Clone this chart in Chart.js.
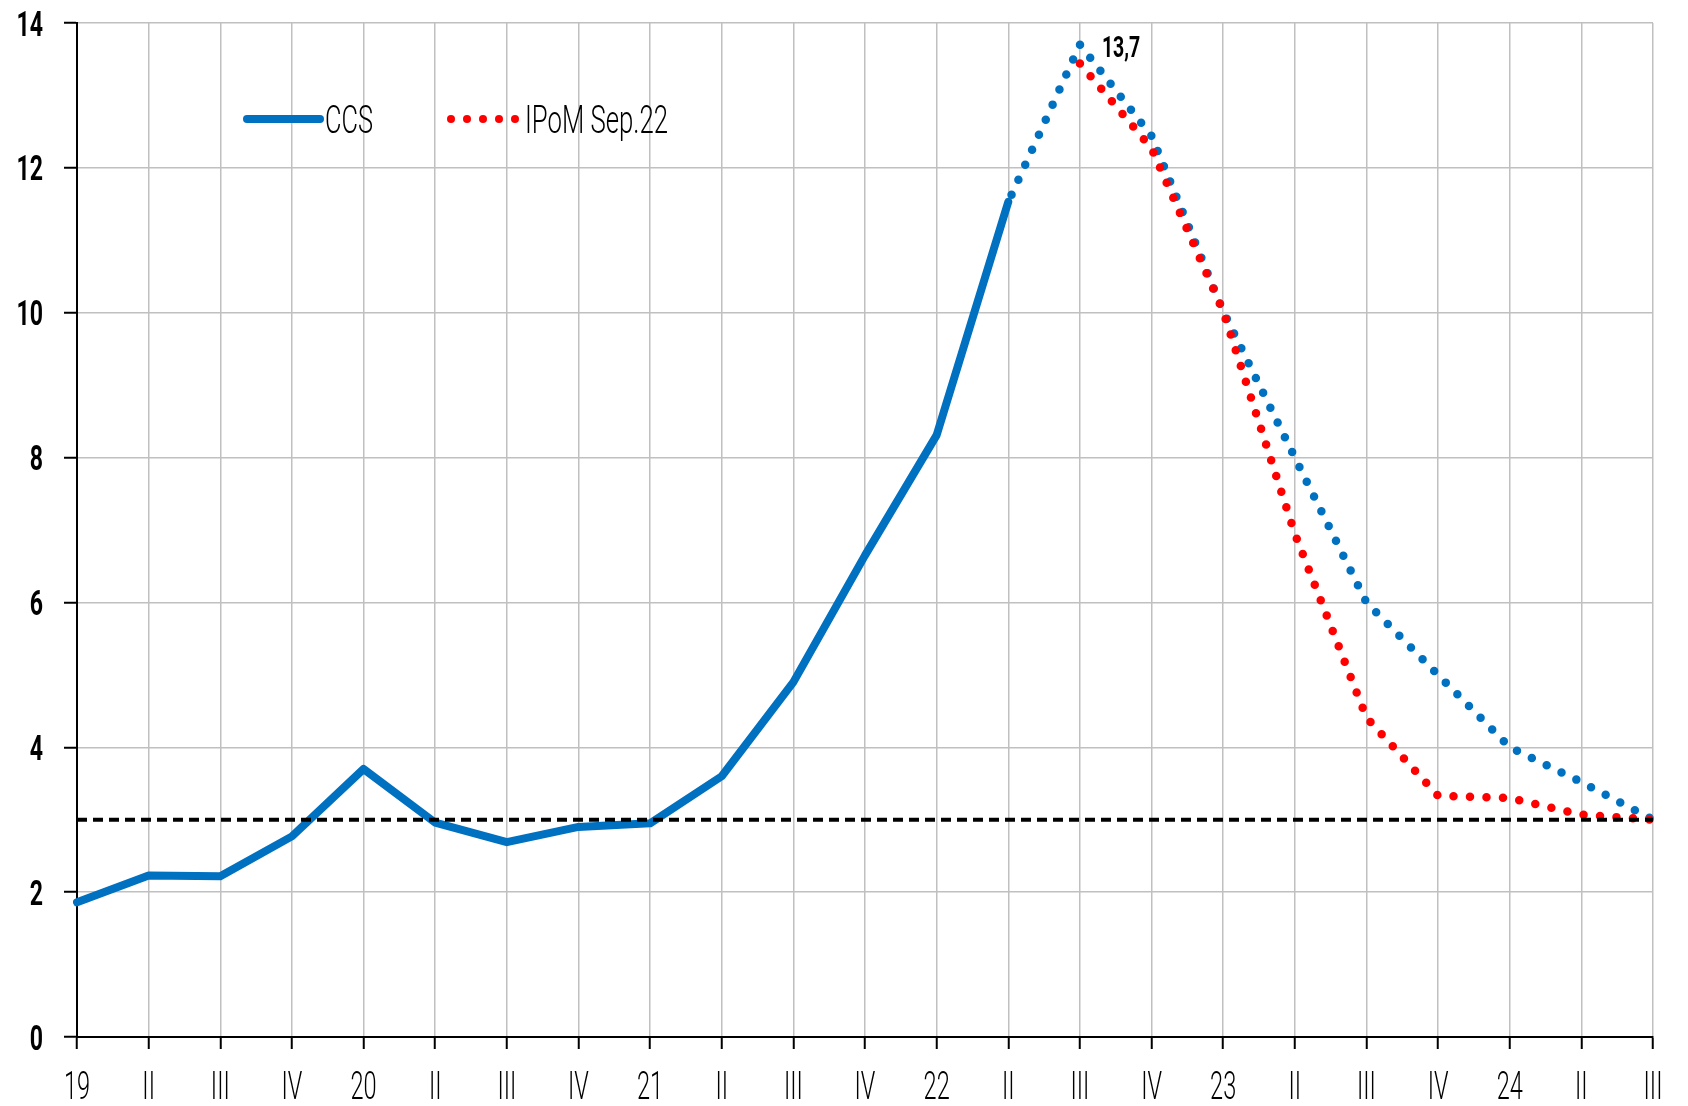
<!DOCTYPE html>
<html>
<head>
<meta charset="utf-8">
<script src="https://cdn.jsdelivr.net/npm/chart.js@4.4.1/dist/chart.umd.min.js"></script>
<style>
  html, body { margin: 0; padding: 0; background: #fff; }
  #wrap { width: 1688px; height: 1106px; }
</style>
</head>
<body>
<div id="wrap"><canvas id="chart"></canvas></div>
<script>
// Quarter labels, 2019 Q1 .. 2024 Q3
const labels = ['19', 'II', 'III', 'IV', '20', 'II', 'III', 'IV', '21', 'II', 'III', 'IV',
                '22', 'II', 'III', 'IV', '23', 'II', 'III', 'IV', '24', 'II', 'III'];

// CCS observed (solid)
const ccsActual = [1.86, 2.23, 2.22, 2.77, 3.70, 2.96, 2.69, 2.90, 2.95, 3.60, 4.90, 6.65,
                   8.31, 11.53, null, null, null, null, null, null, null, null, null];

// CCS projection (blue dots)
const ccsProjection = [null, null, null, null, null, null, null, null, null, null, null, null,
                       null, 11.53, 13.7, 12.44, 10.02, 8.0, 6.0, 5.0, 4.0, 3.52, 3.0];

// IPoM Sep.22 (red dots)
const ipomSep22 = [null, null, null, null, null, null, null, null, null, null, null, null,
                   null, null, 13.44, 12.27, 10.02, 6.95, 4.41, 3.33, 3.30, 3.07, 3.0];

// inflation target
const target = labels.map(() => 3);

// no condensed face installed, so text is squeezed horizontally
const FONT = 'Roboto, "Liberation Sans", sans-serif';
const BLUE = '#0070c0';
const RED = '#ff0000';

function squeezedText(ctx, text, x, y, font, align, sx) {
    ctx.save();
    ctx.font = font;
    ctx.translate(x, y);
    ctx.scale(sx, 1);
    ctx.textAlign = align;
    ctx.textBaseline = 'alphabetic';
    ctx.fillStyle = '#000';
    ctx.fillText(text, 0, 0);
    ctx.restore();
}

// axis labels, legend and peak label
const textLayer = {
    id: 'textLayer',
    afterDraw(chart) {
        const ctx = chart.ctx;
        const xs = chart.scales.x;
        const ys = chart.scales.y;

        xs.ticks.forEach((t, i) => {
            squeezedText(ctx, xs.getLabelForValue(t.value), xs.getPixelForTick(i), xs.top + 62,
                         '300 38px ' + FONT, 'center', 0.62);
        });
        ys.ticks.forEach(t => {
            squeezedText(ctx, String(t.value), 43, ys.getPixelForValue(t.value) + 12.5,
                         'bold 35px ' + FONT, 'right', 0.66);
        });

        // legend
        const y = 119;
        ctx.save();
        ctx.beginPath();
        ctx.moveTo(247, y);
        ctx.lineTo(320, y);
        ctx.lineWidth = 8;
        ctx.lineCap = 'round';
        ctx.strokeStyle = BLUE;
        ctx.stroke();
        ctx.fillStyle = RED;
        for (let i = 0; i < 5; i++) {
            ctx.beginPath();
            ctx.arc(451 + i * 16, y, 4, 0, Math.PI * 2);
            ctx.fill();
        }
        ctx.restore();
        squeezedText(ctx, 'CCS', 325, 132.5, '300 39px ' + FONT, 'left', 0.65);
        squeezedText(ctx, 'IPoM Sep.22', 525, 132.5, '300 39px ' + FONT, 'left', 0.66);

        // peak label
        const peak = Math.max(...ccsProjection.filter(v => v !== null));
        const idx = ccsProjection.indexOf(peak);
        const px = xs.getPixelForValue(idx);
        const py = ys.getPixelForValue(peak);
        squeezedText(ctx, peak.toFixed(1).replace('.', ','), px + 22, py + 12.5,
                     'bold 30px ' + FONT, 'left', 0.65);
    }
};

const ctx = document.getElementById('chart').getContext('2d');
const chart = new Chart(ctx, {
    type: 'line',
    data: {
        labels: labels,
        datasets: [
            {
                label: 'Meta',
                data: target,
                borderColor: '#000',
                borderWidth: 4,
                borderDash: [10, 6],
                pointRadius: 0
            },
            {
                label: 'IPoM Sep.22',
                data: ipomSep22,
                borderColor: RED,
                borderWidth: 8.5,
                borderDash: [0, 16.5],
                borderCapStyle: 'round',
                pointRadius: 0
            },
            {
                label: 'CCS proyección',
                data: ccsProjection,
                borderColor: BLUE,
                borderWidth: 8.5,
                borderDash: [0, 16.5],
                borderDashOffset: 8.6,
                borderCapStyle: 'round',
                pointRadius: 0
            },
            {
                label: 'CCS',
                data: ccsActual,
                borderColor: BLUE,
                borderWidth: 8,
                borderJoinStyle: 'round',
                borderCapStyle: 'round',
                pointRadius: 0
            }
        ]
    },
    options: {
        responsive: true,
        maintainAspectRatio: false,
        animation: false,
        layout: { padding: { top: 23, right: 35, left: 0, bottom: 0 } },
        plugins: {
            legend: { display: false },
            tooltip: { enabled: false }
        },
        scales: {
            x: {
                offset: false,
                grid: {
                    color: '#c0c0c0',
                    lineWidth: 1.5,
                    tickColor: '#000',
                    tickLength: 12,
                    tickWidth: 2
                },
                border: { color: '#000', width: 2 },
                ticks: { display: false, autoSkip: false },
                afterFit(scale) { scale.height = 69; }
            },
            y: {
                min: 0,
                max: 14,
                grid: {
                    color: '#c0c0c0',
                    lineWidth: 1.5,
                    tickColor: '#000',
                    tickLength: 13,
                    tickWidth: 2
                },
                border: { color: '#000', width: 2 },
                ticks: { display: false, stepSize: 2 },
                afterFit(scale) { scale.width = 77; }
            }
        }
    },
    plugins: [textLayer]
});
</script>
</body>
</html>
